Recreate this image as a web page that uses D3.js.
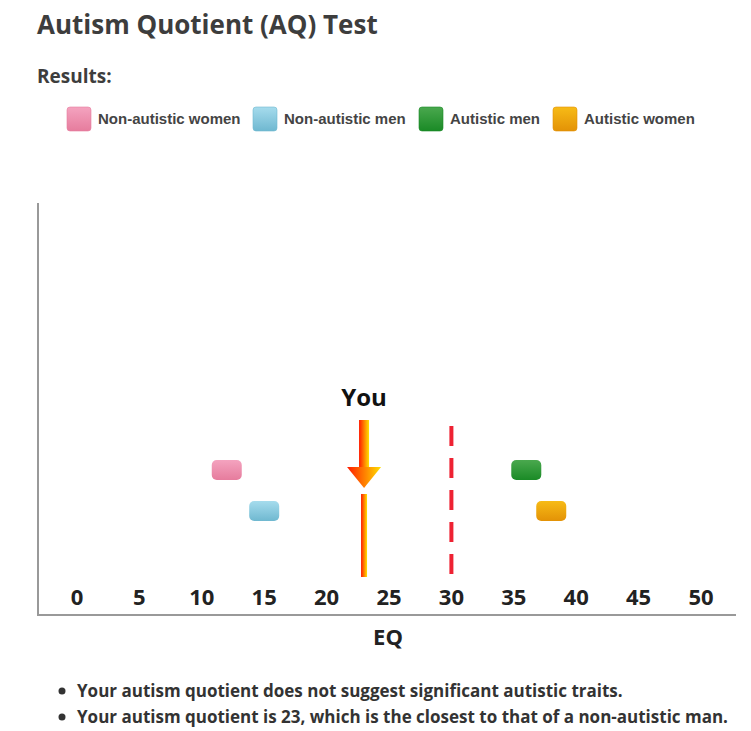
<!DOCTYPE html>
<html><head><meta charset="utf-8">
<script src="https://cdn.jsdelivr.net/npm/d3@7"></script>
<style>
body{margin:0;background:#fff;font-family:"Open Sans",sans-serif;}
</style></head><body>
<svg id="c" width="751" height="731"></svg>
<script>
// data
let groups = ["Non-autistic women", "Non-autistic men", "Autistic men", "Autistic women"];
let scores = [12, 15, 36, 38];
let rows = [0, 1, 0, 1];
let colors = [["#f4a3bf", "#e67c9d"], ["#a6dced", "#6fb8d0"], ["#4aa84e", "#1a8a26"], ["#f7bb16", "#e39206"]];
let ticks = [0, 5, 10, 15, 20, 25, 30, 35, 40, 45, 50];
let yourScore = 23;
let cutoff = 30;
let notes = ["Your autism quotient does not suggest significant autistic traits.",
  "Your autism quotient is 23, which is the closest to that of a non-autistic man."];

let svg = d3.select("#c");
let x = d3.scaleLinear().domain([0, 50]).range([77, 701]);
let y = d3.scalePoint().domain([0, 1]).range([470, 511]);

let defs = svg.append("defs");
colors.forEach((c, i) => {
  let g = defs.append("linearGradient").attr("id", "g" + i).attr("x1", 0).attr("y1", 0).attr("x2", 0).attr("y2", 1);
  g.append("stop").attr("offset", "0%").attr("stop-color", c[0]);
  g.append("stop").attr("offset", "100%").attr("stop-color", c[1]);
});
let ag = defs.append("linearGradient").attr("id", "arr");
ag.append("stop").attr("offset", "0%").attr("stop-color", "#ff1a00");
ag.append("stop").attr("offset", "100%").attr("stop-color", "#ffe000");

svg.append("text").attr("x", 37).attr("y", 34).text("Autism Quotient (AQ) Test")
  .style("font-size", "26px").style("font-weight", 700).attr("fill", "#3d3d3d");
svg.append("text").attr("x", 37).attr("y", 83).text("Results:")
  .style("font-size", "19px").style("font-weight", 700).attr("fill", "#3d3d3d");

// legend
let lx = [67, 253, 419, 553];
let leg = svg.selectAll(".leg").data(groups).enter().append("g").attr("transform", (d, i) => `translate(${lx[i]},107)`);
leg.append("rect").attr("width", 24).attr("height", 24).attr("rx", 3).attr("fill", (d, i) => `url(#g${i})`)
  .attr("stroke", (d, i) => colors[i][1]).attr("stroke-width", 0.6);
leg.append("text").attr("x", 31).attr("y", 17).text(d => d)
  .style("font-family", "Liberation Sans, Arial, sans-serif").style("font-size", "15px").style("font-weight", 700).attr("fill", "#444");

// axes
svg.append("line").attr("x1", 38).attr("x2", 38).attr("y1", 203).attr("y2", 616).attr("stroke", "#999").attr("stroke-width", 2);
svg.append("line").attr("x1", 37).attr("x2", 736).attr("y1", 615).attr("y2", 615).attr("stroke", "#999").attr("stroke-width", 2);
svg.selectAll(".tk").data(ticks).enter().append("text").attr("x", d => x(d)).attr("y", 605)
  .attr("text-anchor", "middle").text(d => d).style("font-size", "22px").style("font-weight", 700).attr("fill", "#222");
svg.append("text").attr("x", 388).attr("y", 645).attr("text-anchor", "middle").text("EQ")
  .style("font-size", "22px").style("font-weight", 700).attr("fill", "#222");

// cutoff
svg.append("line").attr("x1", x(cutoff)).attr("x2", x(cutoff)).attr("y1", 426).attr("y2", 577)
  .attr("stroke", "#ee2233").attr("stroke-width", 4).attr("stroke-dasharray", "20,12");

// markers
svg.selectAll(".mk").data(scores).enter().append("rect")
  .attr("x", d => x(d) - 15).attr("y", (d, i) => y(rows[i]) - 10).attr("width", 30).attr("height", 20).attr("rx", 5)
  .attr("fill", (d, i) => `url(#g${i})`);

// you
let ux = x(yourScore);
svg.append("text").attr("x", ux).attr("y", 406).attr("text-anchor", "middle").text("You")
  .style("font-size", "24px").style("font-weight", 700).attr("fill", "#111");
svg.append("rect").attr("x", ux - 5).attr("y", 420).attr("width", 10).attr("height", 48).attr("fill", "url(#arr)");
svg.append("path").attr("d", `M${ux - 17},467 L${ux + 17},467 L${ux},488 Z`).attr("fill", "url(#arr)");
svg.append("rect").attr("x", ux - 3).attr("y", 494).attr("width", 6).attr("height", 83).attr("fill", "url(#arr)");

// notes
let nt = svg.selectAll(".nt").data(notes).enter().append("g").attr("transform", (d, i) => `translate(62,${691 + i * 26})`);
nt.append("circle").attr("cx", 0).attr("cy", 0).attr("r", 3.5).attr("fill", "#333");
nt.append("text").attr("x", 15).attr("y", 6).text(d => d).style("font-size", "17px").style("font-weight", 700).attr("fill", "#333");
</script>
</body></html>
